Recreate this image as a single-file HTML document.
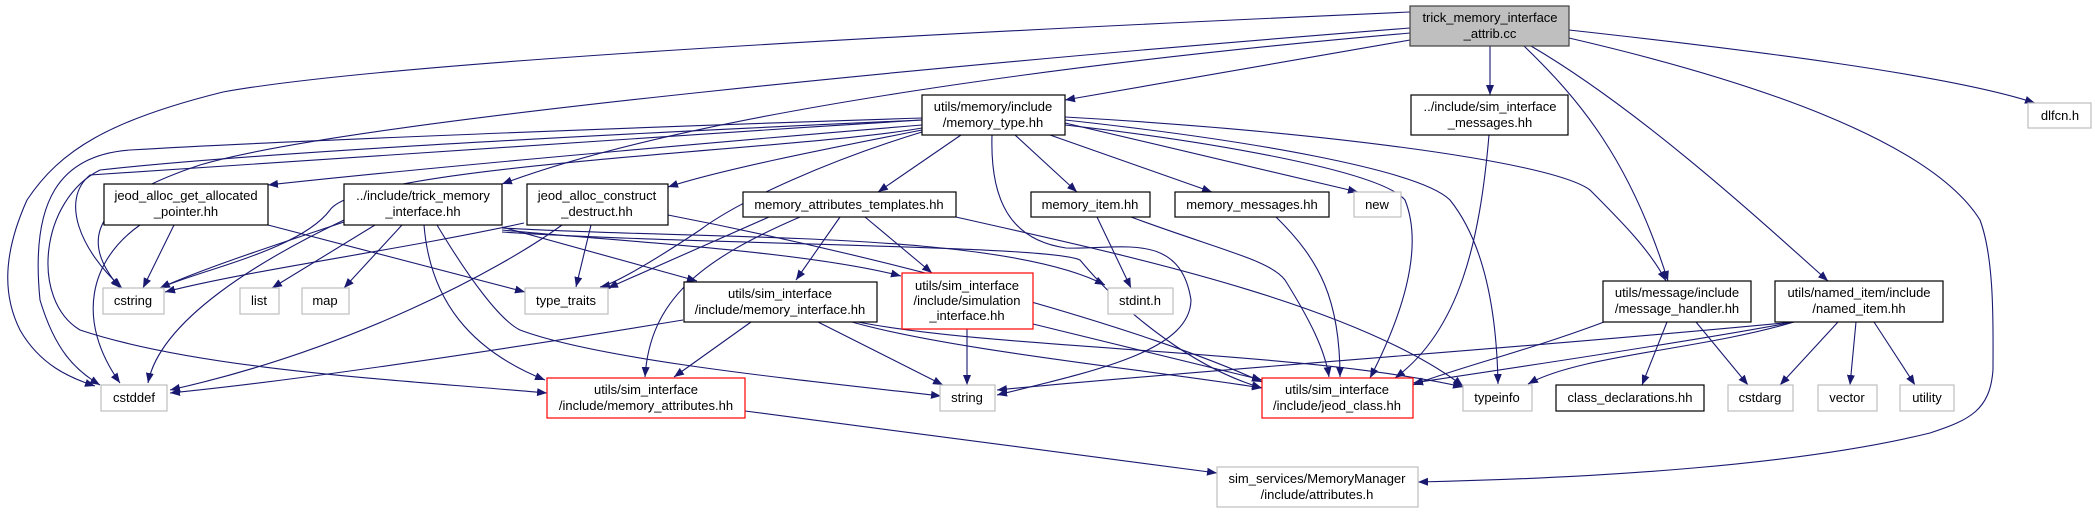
<!DOCTYPE html>
<html><head><meta charset="utf-8"><style>
html,body{margin:0;padding:0;background:#fff;}
svg{display:block;}
text{font-family:"Liberation Sans",Arial,sans-serif;font-size:13px;fill:#000;text-anchor:middle;}
.e{fill:none;stroke:#191970;stroke-width:1.1;marker-end:url(#a);}
.b{fill:#fff;stroke:#000;stroke-width:1.2;}
.g{fill:#fff;stroke:#bfbfbf;stroke-width:1.2;}
.r{fill:#fff;stroke:#ff0000;stroke-width:1.2;}
</style></head><body>
<svg width="2095" height="513" viewBox="0 0 2095 513" xmlns="http://www.w3.org/2000/svg">
<defs><marker id="a" markerUnits="userSpaceOnUse" markerWidth="12" markerHeight="10" refX="10" refY="4" orient="auto"><path d="M0,0 L10,4 L0,8 z" fill="#191970"/></marker></defs>
<path class="e" d="M1410,12 C1000,30 400,60 223,92 C110,120 60,150 27,200 C0,260 5,300 20,330 C40,365 70,378 95,386"/>
<path class="e" d="M1410,28 C1000,60 350,120 200,165 C110,195 70,230 120,288"/>
<path class="e" d="M1410,33 C1100,60 700,110 502,184"/>
<path class="e" d="M1410,40 L1065,100"/>
<path class="e" d="M1490,46 L1490,95"/>
<path class="e" d="M1524,46 C1580,100 1630,160 1668,281"/>
<path class="e" d="M1531,46 C1640,110 1760,220 1828,281"/>
<path class="e" d="M1569,38 C1750,80 1930,140 1980,220 C1995,260 1993,330 1993,370 C1990,410 1970,420 1930,433 C1800,465 1600,478 1418,482"/>
<path class="e" d="M1569,30 C1750,50 1950,75 2035,103"/>
<path class="e" d="M1489,135 C1480,240 1460,330 1395,378"/>
<path class="e" d="M1065,117 C1300,130 1550,160 1590,190 C1620,220 1650,250 1666,281"/>
<path class="e" d="M1065,120 C1250,140 1420,170 1450,200 C1490,250 1497,330 1498,384"/>
<path class="e" d="M1065,125 C1200,140 1380,170 1405,200 C1425,250 1400,320 1370,378"/>
<path class="e" d="M1065,123 L1358,192"/>
<path class="e" d="M1050,135 L1212,192"/>
<path class="e" d="M1015,135 L1077,192"/>
<path class="e" d="M961,135 L878,192"/>
<path class="e" d="M992,135 C990,200 1010,240 1066,248 C1120,250 1180,230 1191,300 C1190,350 1100,370 997,395"/>
<path class="e" d="M922,118 C700,125 300,140 130,150 C60,155 30,200 40,300 C55,350 75,370 100,385"/>
<path class="e" d="M922,120 C700,130 280,150 100,170 C40,200 30,300 80,330 C200,370 400,380 547,393"/>
<path class="e" d="M922,120 C600,140 250,165 90,175 C60,200 80,250 122,288"/>
<path class="e" d="M922,125 C800,135 450,165 268,185"/>
<path class="e" d="M922,130 C820,150 720,170 668,187"/>
<path class="e" d="M922,128 C800,150 360,165 330,210 C300,250 200,270 160,288"/>
<path class="e" d="M922,132 C830,160 740,200 700,230 C640,270 610,285 600,287"/>
<path class="e" d="M344,222 C260,250 200,270 160,288"/>
<path class="e" d="M344,220 C260,260 160,320 148,383"/>
<path class="e" d="M375,225 L272,288"/>
<path class="e" d="M402,225 L344,288"/>
<path class="e" d="M424,225 C430,300 470,350 545,380"/>
<path class="e" d="M437,225 C470,280 500,320 520,330 C600,360 800,380 941,396"/>
<path class="e" d="M502,227 L697,281"/>
<path class="e" d="M502,230 C600,240 800,250 901,276"/>
<path class="e" d="M502,228 C700,240 1000,230 1105,285"/>
<path class="e" d="M502,232 C700,245 1050,245 1080,260 C1130,320 1200,370 1262,388"/>
<path class="e" d="M174,225 L143,288"/>
<path class="e" d="M140,225 C90,260 75,320 120,383"/>
<path class="e" d="M268,225 L525,292"/>
<path class="e" d="M524,223 C400,250 250,270 165,292"/>
<path class="e" d="M591,225 L576,287"/>
<path class="e" d="M562,225 C500,270 350,350 170,390"/>
<path class="e" d="M668,215 C900,260 1150,330 1262,382"/>
<path class="e" d="M769,217 L608,288"/>
<path class="e" d="M800,217 C700,260 650,300 645,377"/>
<path class="e" d="M840,217 L796,280"/>
<path class="e" d="M865,217 L932,273"/>
<path class="e" d="M956,217 C1100,250 1350,300 1463,386"/>
<path class="e" d="M683,320 C500,350 300,380 170,393"/>
<path class="e" d="M751,322 L674,377"/>
<path class="e" d="M818,322 L943,385"/>
<path class="e" d="M852,322 C950,350 1150,370 1262,388"/>
<path class="e" d="M858,322 C1000,350 1300,350 1463,387"/>
<path class="e" d="M745,411 L1217,473"/>
<path class="e" d="M967,329 L967,385"/>
<path class="e" d="M1033,324 L1262,380"/>
<path class="e" d="M1097,217 L1131,288"/>
<path class="e" d="M1131,217 C1220,250 1270,260 1285,280 C1310,320 1325,350 1329,377"/>
<path class="e" d="M1276,217 C1320,260 1340,300 1340,377"/>
<path class="e" d="M1604,322 C1530,350 1450,370 1413,385"/>
<path class="e" d="M1667,322 L1642,385"/>
<path class="e" d="M1696,322 L1748,385"/>
<path class="e" d="M1794,322 C1700,340 1500,370 1413,383"/>
<path class="e" d="M1794,322 C1700,350 1580,355 1528,384"/>
<path class="e" d="M1794,322 C1500,350 1200,370 997,390"/>
<path class="e" d="M1838,322 L1780,385"/>
<path class="e" d="M1856,322 L1850,385"/>
<path class="e" d="M1874,322 L1915,385"/>
<rect x="1410" y="6" width="159" height="40" fill="#bfbfbf" stroke="#404040" stroke-width="1.2"/>
<text x="1490" y="22">trick_memory_interface</text><text x="1490" y="38">_attrib.cc</text>
<rect class="b" x="922" y="95" width="143" height="40"/><text x="993" y="111">utils/memory/include</text><text x="993" y="127">/memory_type.hh</text>
<rect class="b" x="1411" y="95" width="157" height="40"/><text x="1490" y="111">../include/sim_interface</text><text x="1490" y="127">_messages.hh</text>
<rect class="g" x="2028" y="103" width="63" height="25"/><text x="2060" y="120">dlfcn.h</text>
<rect class="b" x="104" y="184" width="164" height="41"/><text x="186" y="200">jeod_alloc_get_allocated</text><text x="186" y="216">_pointer.hh</text>
<rect class="b" x="344" y="184" width="158" height="41"/><text x="423" y="200">../include/trick_memory</text><text x="423" y="216">_interface.hh</text>
<rect class="b" x="527" y="184" width="141" height="41"/><text x="597" y="200">jeod_alloc_construct</text><text x="597" y="216">_destruct.hh</text>
<rect class="b" x="743" y="192" width="213" height="25"/><text x="849" y="209">memory_attributes_templates.hh</text>
<rect class="b" x="1031" y="192" width="119" height="25"/><text x="1090" y="209">memory_item.hh</text>
<rect class="b" x="1175" y="192" width="154" height="25"/><text x="1252" y="209">memory_messages.hh</text>
<rect class="g" x="1354" y="192" width="47" height="25"/><text x="1377" y="209">new</text>
<rect class="g" x="103" y="288" width="61" height="26"/><text x="133" y="305">cstring</text>
<rect class="g" x="240" y="288" width="39" height="26"/><text x="259" y="305">list</text>
<rect class="g" x="302" y="288" width="47" height="26"/><text x="325" y="305">map</text>
<rect class="g" x="525" y="288" width="83" height="26"/><text x="566" y="305">type_traits</text>
<rect class="b" x="684" y="282" width="193" height="40"/><text x="780" y="298">utils/sim_interface</text><text x="780" y="314">/include/memory_interface.hh</text>
<rect class="r" x="902" y="273" width="131" height="56"/><text x="967" y="290">utils/sim_interface</text><text x="967" y="305">/include/simulation</text><text x="967" y="320">_interface.hh</text>
<rect class="g" x="1108" y="288" width="65" height="26"/><text x="1140" y="305">stdint.h</text>
<rect class="b" x="1603" y="281" width="148" height="41"/><text x="1677" y="297">utils/message/include</text><text x="1677" y="313">/message_handler.hh</text>
<rect class="b" x="1775" y="281" width="168" height="41"/><text x="1859" y="297">utils/named_item/include</text><text x="1859" y="313">/named_item.hh</text>
<rect class="g" x="101" y="385" width="66" height="26"/><text x="134" y="402">cstddef</text>
<rect class="r" x="547" y="378" width="198" height="40"/><text x="646" y="394">utils/sim_interface</text><text x="646" y="410">/include/memory_attributes.hh</text>
<rect class="g" x="940" y="385" width="55" height="26"/><text x="967" y="402">string</text>
<rect class="r" x="1262" y="378" width="151" height="40"/><text x="1337" y="394">utils/sim_interface</text><text x="1337" y="410">/include/jeod_class.hh</text>
<rect class="g" x="1463" y="385" width="69" height="26"/><text x="1497" y="402">typeinfo</text>
<rect class="b" x="1556" y="385" width="148" height="26"/><text x="1630" y="402">class_declarations.hh</text>
<rect class="g" x="1728" y="385" width="65" height="26"/><text x="1760" y="402">cstdarg</text>
<rect class="g" x="1818" y="385" width="59" height="26"/><text x="1847" y="402">vector</text>
<rect class="g" x="1900" y="385" width="54" height="26"/><text x="1927" y="402">utility</text>
<rect class="g" x="1217" y="467" width="201" height="40"/><text x="1317" y="483">sim_services/MemoryManager</text><text x="1317" y="499">/include/attributes.h</text>
</svg>
</body></html>
